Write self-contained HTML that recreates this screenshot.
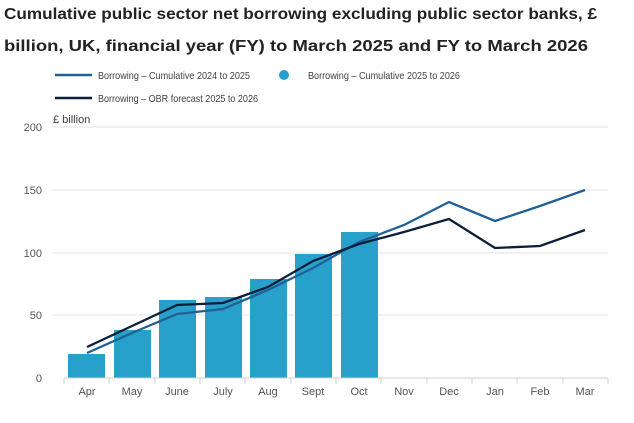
<!DOCTYPE html>
<html><head><meta charset="utf-8"><style>
body{margin:0;background:#fff;width:634px;height:423px;overflow:hidden;font-family:"Liberation Sans",sans-serif}
</style></head><body>
<svg width="634" height="423" style="position:absolute;left:0;top:0" font-family="Liberation Sans,sans-serif">
<g font-weight="bold" font-size="16" fill="#222">
<text x="4" y="19" textLength="593" lengthAdjust="spacingAndGlyphs">Cumulative public sector net borrowing excluding public sector banks, £</text>
<text x="4" y="51" textLength="584" lengthAdjust="spacingAndGlyphs">billion, UK, financial year (FY) to March 2025 and FY to March 2026</text>
</g>
<g font-size="10.5" fill="#414042">
<line x1="55" y1="75" x2="92" y2="75" stroke="#206095" stroke-width="2.5"/>
<text x="98" y="79" textLength="152" lengthAdjust="spacingAndGlyphs">Borrowing – Cumulative 2024 to 2025</text>
<circle cx="284" cy="75" r="5" fill="#27a0cc"/>
<text x="308" y="79" textLength="152" lengthAdjust="spacingAndGlyphs">Borrowing – Cumulative 2025 to 2026</text>
<line x1="55" y1="98" x2="92" y2="98" stroke="#0b1f3a" stroke-width="2.5"/>
<text x="98" y="102" textLength="160" lengthAdjust="spacingAndGlyphs">Borrowing – OBR forecast 2025 to 2026</text>
<text x="53" y="123" font-size="11">£ billion</text>
</g>
<g stroke="#e3e3e3" stroke-width="1">
<line x1="52" y1="127" x2="608" y2="127"/><line x1="52" y1="190" x2="608" y2="190"/>
<line x1="52" y1="253" x2="608" y2="253"/><line x1="52" y1="315" x2="608" y2="315"/>
</g>
<g font-size="11" fill="#555" text-anchor="end">
<text x="42" y="131">200</text><text x="42" y="194">150</text><text x="42" y="257">100</text><text x="42" y="319">50</text><text x="42" y="382">0</text>
</g>
<g fill="#27a0cc">
<rect x="68" y="354" width="37" height="24"/><rect x="114" y="330" width="37" height="48"/>
<rect x="159" y="300" width="37" height="78"/><rect x="205" y="297" width="37" height="81"/>
<rect x="250" y="279" width="37" height="99"/><rect x="295" y="254" width="37" height="124"/>
<rect x="341" y="232" width="37" height="146"/>
</g>
<polyline fill="none" stroke="#206095" stroke-width="2.3" points="87,353 132,333 177,314 223,309 268,290 313,268 359,242 404,225 449,202 495,221 540,206 585,190"/>
<polyline fill="none" stroke="#0b1f3a" stroke-width="2.3" points="87,347 132,326 177,305 223,303 268,287 313,261 359,244 404,232 449,219 495,248 540,246 585,230"/>
<line x1="64" y1="378" x2="608" y2="378" stroke="#d0d0d0"/>
<g stroke="#d0d0d0">
<line x1="64" y1="378" x2="64" y2="384"/><line x1="109" y1="378" x2="109" y2="384"/><line x1="155" y1="378" x2="155" y2="384"/><line x1="200" y1="378" x2="200" y2="384"/><line x1="245" y1="378" x2="245" y2="384"/><line x1="291" y1="378" x2="291" y2="384"/><line x1="336" y1="378" x2="336" y2="384"/><line x1="381" y1="378" x2="381" y2="384"/><line x1="427" y1="378" x2="427" y2="384"/><line x1="472" y1="378" x2="472" y2="384"/><line x1="517" y1="378" x2="517" y2="384"/><line x1="563" y1="378" x2="563" y2="384"/><line x1="608" y1="378" x2="608" y2="384"/>
</g>
<g font-size="11" fill="#555" text-anchor="middle">
<text x="87" y="395">Apr</text><text x="132" y="395">May</text><text x="177" y="395">June</text><text x="223" y="395">July</text><text x="268" y="395">Aug</text><text x="313" y="395">Sept</text><text x="359" y="395">Oct</text><text x="404" y="395">Nov</text><text x="449" y="395">Dec</text><text x="495" y="395">Jan</text><text x="540" y="395">Feb</text><text x="585" y="395">Mar</text>
</g>
</svg>
</body></html>
